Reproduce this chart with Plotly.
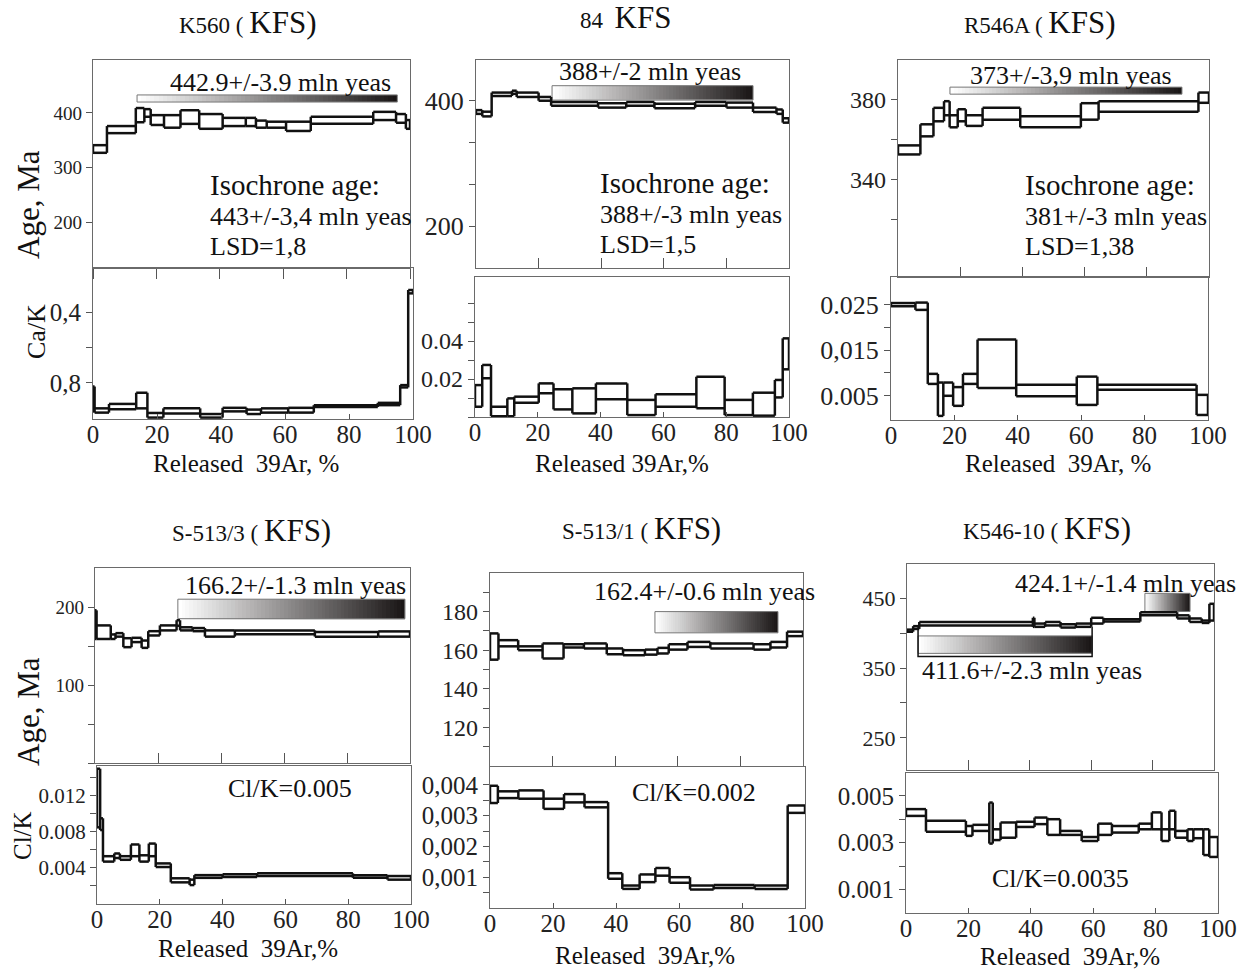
import plotly.graph_objects as go
import numpy as np

W, H = 1254, 971
FONT = "Liberation Serif"

# ---------------- DATA (cumulative 39Ar %, lower / upper bounds) ----------------
k560_edges = [0, 4.4, 13.5, 16.2, 18.2, 22.4, 27.6, 33.5, 40.9, 48.2, 51.4, 54.8, 60.9, 68.7, 88.4, 95.6, 98.7, 100]
k560_age_lo = [327, 363, 383, 393, 378, 373, 380, 371, 376, 376, 373, 373, 367, 380, 387, 382, 371]
k560_age_hi = [341, 376, 409, 407, 396, 396, 405, 398, 391, 391, 386, 384, 384, 393, 402, 398, 387]
k560_cak_edges = [0, 0.5, 5, 13.5, 17, 22, 33.5, 40.5, 48, 52.5, 61, 69, 89, 96, 98.5, 100]
k560_cak_lo = [0.82, 0.943, 0.918, 0.855, 0.969, 0.943, 0.975, 0.94, 0.95, 0.943, 0.94, 0.925, 0.912, 0.812, 0.276]
k560_cak_hi = [0.96, 0.967, 0.948, 0.943, 0.995, 0.972, 0.995, 0.96, 0.975, 0.967, 0.967, 0.935, 0.925, 0.825, 0.295]

s84_edges = [0, 2, 5, 11.5, 13, 20, 24, 39, 48, 57, 70, 80, 88.5, 96, 98, 100]
s84_age_lo = [379, 375, 407.5, 411, 406, 400, 392, 389, 392, 388, 392, 389, 382, 379, 365]
s84_age_hi = [385, 382.5, 413, 416, 413, 406, 398, 396, 398, 395, 398, 397, 389, 386, 372]
s84_cak_edges = [0, 2.3, 5.1, 10.3, 12.5, 20.3, 25, 31, 38.5, 48.5, 57.5, 70.5, 79.5, 88.5, 95.5, 98, 100]
s84_cak_lo = [0.0054, 0.0204, 0.0004, 0.0004, 0.0075, 0.0125, 0.004, 0.0019, 0.0093, 0.001, 0.0054, 0.0046, 0.001, 0.0007, 0.0103, 0.0251]
s84_cak_hi = [0.0168, 0.0274, 0.0054, 0.0098, 0.0107, 0.0177, 0.0146, 0.0151, 0.0177, 0.009, 0.012, 0.0212, 0.009, 0.0128, 0.0195, 0.0414]

r546_edges = [0, 7.2, 11.4, 14.8, 16.6, 19.2, 21.8, 27.2, 39.3, 58.8, 64.5, 96.6, 100]
r546_age_lo = [352.5, 361.5, 369, 372, 366, 369, 366.7, 369.8, 366, 369.8, 373.7, 378.2]
r546_age_hi = [357, 367.5, 375.7, 379, 372, 375, 372, 375.7, 371.5, 378, 379, 383.3]
r546_cak_edges = [0, 7.7, 11.6, 14.8, 16.5, 19.6, 22.7, 27.3, 39.5, 58.6, 65.1, 96.4, 100]
r546_cak_lo = [0.0246, 0.0238, 0.0076, 0.0006, 0.005, 0.0028, 0.0076, 0.0067, 0.0049, 0.003, 0.0063, 0.0008]
r546_cak_hi = [0.0253, 0.0254, 0.0098, 0.0079, 0.0079, 0.0069, 0.0098, 0.0173, 0.0074, 0.0092, 0.0074, 0.0052]

s5133_edges = [0, 0.5, 5, 6.5, 9, 11.6, 14.8, 16.9, 20.6, 25.9, 27, 31, 34.9, 44.4, 69.8, 89.9, 100]
s5133_age_lo = [159, 159, 159, 162, 148.5, 155, 147.6, 163.5, 170, 176, 170, 169, 162, 165, 162, 162]
s5133_age_hi = [195.7, 176.4, 164.8, 166.5, 160, 160.5, 157, 169, 176.4, 183, 174, 173, 170, 170, 168, 168.7]
s5133_clk_edges = [0, 1, 1.9, 5.5, 7.3, 10.8, 13.5, 16.5, 18.7, 23.5, 29.5, 31, 40, 51, 81.5, 92.5, 100]
s5133_clk_lo = [0.0085, 0.0082, 0.0047, 0.0051, 0.0049, 0.0053, 0.0047, 0.0053, 0.0041, 0.0024, 0.0021, 0.0029, 0.003, 0.0031, 0.0029, 0.0027]
s5133_clk_hi = [0.0150, 0.0095, 0.0053, 0.0056, 0.0053, 0.0066, 0.0054, 0.0067, 0.0045, 0.00285, 0.0027, 0.0032, 0.0033, 0.0034, 0.0032, 0.0031]

s5131_edges = [0, 2.7, 9, 16.8, 23.5, 30, 37.3, 42.5, 49.5, 53.5, 57.1, 63.1, 70.4, 84.2, 89.6, 94.9, 100]
s5131_age_lo = [155.1, 162, 160, 155.7, 161.4, 160.9, 157.9, 157.4, 157.7, 158.3, 160.3, 161.7, 160.9, 160.3, 161.4, 167.3]
s5131_age_hi = [168.7, 165.2, 162, 163.5, 163.1, 163.5, 160.9, 160, 160.3, 161.2, 163.1, 164.3, 163.5, 163.1, 164.3, 169.6]
s5131_clk_edges = [0, 2.5, 9, 17, 23.5, 30, 37.5, 42, 47.5, 52.5, 57, 63.5, 71, 84, 94.5, 100]
s5131_clk_lo = [0.00341, 0.00357, 0.00355, 0.00322, 0.00343, 0.00327, 0.00095, 0.00062, 0.00084, 0.00105, 0.00082, 0.0006, 0.00065, 0.00062, 0.00309]
s5131_clk_hi = [0.00397, 0.00379, 0.00382, 0.00355, 0.0037, 0.00344, 0.00113, 0.00073, 0.00109, 0.0013, 0.001, 0.00073, 0.00075, 0.00073, 0.00333]

k546_edges = [0, 2, 4, 41, 41.5, 45, 50, 55, 60, 64, 76, 88, 92, 96, 98.5, 100]
k546_age_lo = [402, 406, 411, 409, 409, 411, 408, 409, 413.7, 416.5, 425.5, 421, 416, 414.6, 418]
k546_age_hi = [405, 410, 416, 422, 413.7, 416, 412.7, 413.7, 422, 420, 430, 425.5, 421, 418, 442]
k546_clk_edges = [0, 6.4, 19.2, 21.3, 26.7, 27.8, 30.3, 35.3, 41.2, 45.3, 49.4, 56.3, 61.6, 66, 74.6, 78.8, 81.9, 84.4, 86.3, 90.2, 92.1, 95.3, 97.2, 100]
k546_clk_lo = [0.00414, 0.00347, 0.00329, 0.0035, 0.00296, 0.00311, 0.00321, 0.00367, 0.00379, 0.00333, 0.00333, 0.00307, 0.00333, 0.00343, 0.00357, 0.00357, 0.00307, 0.00357, 0.00321, 0.00307, 0.00319, 0.00247, 0.00239]
k546_clk_hi = [0.00443, 0.00393, 0.00371, 0.00376, 0.00471, 0.00357, 0.00386, 0.00389, 0.00407, 0.004, 0.0035, 0.00324, 0.00381, 0.00371, 0.00381, 0.00429, 0.00357, 0.00436, 0.0035, 0.00357, 0.00357, 0.00357, 0.00324]

# plateau bars: [x_start %, x_end %, lower, upper]
k560_plateau = [13.9, 96.0, 420, 433]
s84_plateau = [24.3, 88.5, 401, 424]
r546_plateau = [16.7, 91.3, 382.5, 386]
s5133_plateau = [26.3, 98.4, 185, 210]
s5131_plateau = [52.7, 92.0, 169, 180]
k546_plateau_a = [77.5, 92.2, 431, 457]
k546_plateau_b = [3.6, 60.3, 371, 396]

x_ticks = [0, 20, 40, 60, 80, 100]

# ---------------- FIGURE ----------------
fig = go.Figure()


def dx(a, b):
    return [a / W, b / W]


def dy(top, bot):
    return [1 - bot / H, 1 - top / H]


AX = dict(showgrid=False, zeroline=False, showline=True, linecolor="#6a6a6a", linewidth=1.2,
          mirror=True, ticks="outside", tickcolor="#555", ticklen=6, automargin=False,
          tickfont=dict(family=FONT, size=25, color="#222"))

panels = [
    dict(top=(93, 410, 60, 268), bot=(93, 413, 268, 419), tyr=[116, 497], byr=[1.003, 0.152],
         tyt=[200, 300, 400], tyl=["200", "300", "400"],
         byt=[0.4, 0.6, 0.8], byl=["0,4", "", "0,8"], tfs=19, bfs=25),
    dict(top=(476, 789, 60, 268), bot=(475, 789, 277, 417), tyr=[133, 465], byr=[0, 0.0737],
         tyt=[200, 266.7, 333.3, 400], tyl=["200", "", "", "400"],
         byt=[0, 0.01, 0.02, 0.03, 0.04, 0.05, 0.06], byl=["", "", "0.02", "", "0.04", "", ""], tfs=26, bfs=24),
    dict(top=(898, 1209, 60, 277), bot=(891, 1208, 277, 420), tyr=[291.5, 399.5], byr=[-0.0003, 0.031],
         tyt=[320, 340, 360, 380], tyl=["", "340", "", "380"],
         byt=[0.005, 0.01, 0.015, 0.02, 0.025], byl=["0.005", "", "0,015", "", "0.025"], tfs=24, bfs=26),
    dict(top=(95, 410, 568, 763), bot=(97, 411, 766, 904), tyr=[0, 250], byr=[0, 0.0153],
         tyt=[0, 50, 100, 150, 200], tyl=["", "", "100", "", "200"],
         byt=[0.002, 0.004, 0.006, 0.008, 0.010, 0.012, 0.014], byl=["", "0.004", "", "0.008", "", "0.012", ""],
         tfs=19, bfs=21),
    dict(top=(490, 803, 573, 766), bot=(490, 805, 767, 908), tyr=[100, 200], byr=[0, 0.00458],
         tyt=[110, 120, 130, 140, 150, 160, 170, 180, 190], tyl=["", "120", "", "140", "", "160", "", "180", ""],
         byt=[0.0005, 0.001, 0.0015, 0.002, 0.0025, 0.003, 0.0035, 0.004], byl=["", "0,001", "", "0,002", "", "0,003", "", "0,004"],
         tfs=24, bfs=25),
    dict(top=(907, 1214, 564, 770), bot=(906, 1218, 773, 913), tyr=[204, 499], byr=[0, 0.00597],
         tyt=[250, 300, 350, 400, 450], tyl=["250", "", "350", "", "450"],
         byt=[0.001, 0.002, 0.003, 0.004, 0.005], byl=["0.001", "", "0.003", "", "0.005"], tfs=22, bfs=25),
]

series = [
    (k560_edges, k560_age_lo, k560_age_hi, k560_cak_edges, k560_cak_lo, k560_cak_hi, [k560_plateau]),
    (s84_edges, s84_age_lo, s84_age_hi, s84_cak_edges, s84_cak_lo, s84_cak_hi, [s84_plateau]),
    (r546_edges, r546_age_lo, r546_age_hi, r546_cak_edges, r546_cak_lo, r546_cak_hi, [r546_plateau]),
    (s5133_edges, s5133_age_lo, s5133_age_hi, s5133_clk_edges, s5133_clk_lo, s5133_clk_hi, [s5133_plateau]),
    (s5131_edges, s5131_age_lo, s5131_age_hi, s5131_clk_edges, s5131_clk_lo, s5131_clk_hi, [s5131_plateau]),
    (k546_edges, k546_age_lo, k546_age_hi, k546_clk_edges, k546_clk_lo, k546_clk_hi, [k546_plateau_a, k546_plateau_b]),
]


def boxes(edges, lo, hi):
    """Closed step boxes plus connectors between neighbouring steps."""
    xs, ys = [], []
    n = len(lo)
    for i in range(n):
        a, b = edges[i], edges[i + 1]
        xs += [a, b, None, a, b, None]
        ys += [lo[i], lo[i], None, hi[i], hi[i], None]
    for j in range(n + 1):
        e = edges[j]
        vals = []
        if j > 0:
            vals += [lo[j - 1], hi[j - 1]]
        if j < n:
            vals += [lo[j], hi[j]]
        xs += [e, e, None]
        ys += [min(vals), max(vals), None]
    return xs, ys


layout_axes = {}
for i, (p, s) in enumerate(zip(panels, series)):
    nt = 2 * i + 1
    nb = 2 * i + 2
    xt, yt = f"x{nt}", f"y{nt}"
    xb, yb = f"x{nb}", f"y{nb}"
    tx0, tx1, ty0, ty1 = p["top"]
    bx0, bx1, by0, by1 = p["bot"]

    layout_axes[f"xaxis{nt}"] = dict(AX, domain=dx(tx0, tx1), range=[0, 100], anchor=yt,
                                     tickvals=x_ticks, showticklabels=False,
                                     ticks="outside" if i == 0 else "inside", ticklen=10)
    layout_axes[f"yaxis{nt}"] = dict(AX, domain=dy(ty0, ty1), range=p["tyr"], anchor=xt,
                                     tickvals=p["tyt"], ticktext=p["tyl"],
                                     tickfont=dict(family=FONT, size=p["tfs"], color="#222"))
    layout_axes[f"xaxis{nb}"] = dict(AX, domain=dx(bx0, bx1), range=[0, 100], anchor=yb,
                                     tickvals=x_ticks, ticks="inside", ticklen=5,
                                     ticklabelstandoff=-7,
                                     tickfont=dict(family=FONT, size=25, color="#222"))
    layout_axes[f"yaxis{nb}"] = dict(AX, domain=dy(by0, by1), range=p["byr"], anchor=xb,
                                     tickvals=p["byt"], ticktext=p["byl"],
                                     tickfont=dict(family=FONT, size=p["bfs"], color="#222"))

    edges, lo, hi, bedges, blo, bhi, plats = s
    for pl in plats:
        n = 60
        xe = np.linspace(pl[0], pl[1], n + 1)
        z = [list(np.linspace(0, 1, n))]
        fig.add_trace(go.Heatmap(x=xe, y=[pl[2], pl[3]], z=z, xaxis=xt, yaxis=yt,
                                 colorscale=[[0, "#ffffff"], [0.5, "#8a8888"], [1, "#1a1616"]],
                                 zmin=0, zmax=1, showscale=False, hoverinfo="skip"))
        fig.add_trace(go.Scatter(x=[pl[0], pl[1], pl[1], pl[0], pl[0]],
                                 y=[pl[2], pl[2], pl[3], pl[3], pl[2]],
                                 xaxis=xt, yaxis=yt, mode="lines",
                                 line=dict(color="#777", width=1), hoverinfo="skip", showlegend=False))
    bx, byy = boxes(edges, lo, hi)
    fig.add_trace(go.Scatter(x=bx, y=byy, xaxis=xt, yaxis=yt, mode="lines",
                             line=dict(color="#111", width=2.5), showlegend=False, hoverinfo="skip"))
    bx, byy = boxes(bedges, blo, bhi)
    fig.add_trace(go.Scatter(x=bx, y=byy, xaxis=xb, yaxis=yb, mode="lines",
                             line=dict(color="#111", width=2.5), showlegend=False, hoverinfo="skip"))

# bracket for the lower plateau of K546-10
fig.add_trace(go.Scatter(x=[k546_plateau_b[0], k546_plateau_b[0], k546_plateau_b[1], k546_plateau_b[1]],
                         y=[409, 366.5, 366.5, 409], xaxis="x11", yaxis="y11", mode="lines",
                         line=dict(color="#111", width=1.5), showlegend=False, hoverinfo="skip"))

fig.update_layout(**layout_axes)


def ann(text, x, y, size, xanchor="left", angle=0, yanchor="middle"):
    fig.add_annotation(text=text, x=x / W, y=1 - y / H, xref="paper", yref="paper",
                       xanchor=xanchor, yanchor=yanchor, showarrow=False, textangle=angle,
                       font=dict(family=FONT, size=size, color="#111"))


big = "<span style='font-size:31px'>KFS)</span>"
ann("K560 ( " + big, 247, 22, 23, "center")
ann("84  <span style='font-size:31px'>KFS</span>", 625, 18, 23, "center")
ann("R546A ( " + big, 1040, 22, 23, "center")
ann("S-513/3 ( " + big, 251, 530, 23, "center")
ann("S-513/1 ( " + big, 641, 528, 23, "center")
ann("K546-10 ( " + big, 1047, 528, 23, "center")

ann("Age, Ma", 28, 205, 31, "center", -90)
ann("Ca/K", 36, 332, 26, "center", -90)
ann("Age, Ma", 28, 712, 31, "center", -90)
ann("Cl/K", 22, 836, 25, "center", -90)

ann("Released\u00a0\u00a039Ar,\u00a0%", 246, 464, 25, "center")
ann("Released\u00a039Ar,%", 622, 464, 25, "center")
ann("Released\u00a0\u00a039Ar,\u00a0%", 1058, 464, 25, "center")
ann("Released\u00a0\u00a039Ar,%", 248, 948, 25, "center")
ann("Released\u00a0\u00a039Ar,%", 645, 955, 25, "center")
ann("Released\u00a0\u00a039Ar,%", 1070, 956, 25, "center")

ann("442.9+/-3.9 mln yeas", 168, 82, 26)
ann("Isochrone age:", 208, 185, 29)
ann("443+/-3,4 mln yeas", 208, 216, 26)
ann("LSD=1,8", 208, 246, 26)

ann("388+/-2 mln yeas", 557, 72, 26)
ann("Isochrone age:", 598, 183, 29)
ann("388+/-3 mln yeas", 598, 215, 26)
ann("LSD=1,5", 598, 245, 26)

ann("373+/-3,9 mln yeas", 968, 76, 26)
ann("Isochrone age:", 1023, 185, 29)
ann("381+/-3 mln yeas", 1023, 216, 26)
ann("LSD=1,38", 1023, 247, 26)

ann("166.2+/-1.3 mln yeas", 183, 585, 26)
ann("Cl/K=0.005", 226, 788, 26)
ann("162.4+/-0.6 mln yeas", 592, 591, 26)
ann("Cl/K=0.002", 630, 792, 26)
ann("424.1+/-1.4 mln yeas", 1013, 583, 26)
ann("411.6+/-2.3 mln yeas", 920, 670, 26)
ann("Cl/K=0.0035", 990, 878, 26)

fig.update_layout(width=W, height=H, margin=dict(l=0, r=0, t=0, b=0, autoexpand=False),
                  paper_bgcolor="white", plot_bgcolor="white", showlegend=False)

fig.write_html("out.html", config={"displayModeBar": False},
               post_script="document.body.style.margin='0';document.body.style.padding='0';"
                           "document.documentElement.style.overflow='hidden';")
